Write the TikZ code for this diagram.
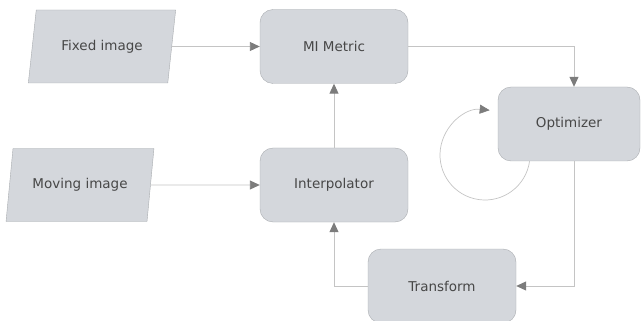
\documentclass[tikz,border=0pt]{standalone}
\usepackage{fontspec}
\setmainfont{DejaVu Sans}
\usetikzlibrary{shapes.geometric,arrows.meta}

\definecolor{cajagris}{HTML}{D4D7DC}
\definecolor{bordegris}{HTML}{A9ACB0}
\definecolor{lineagris}{HTML}{C4C4C4}
\definecolor{puntagris}{HTML}{7C7C7C}
\definecolor{textogris}{HTML}{474747}

\tikzset{
  caja/.style={draw=bordegris, fill=cajagris, rounded corners=13pt,
    minimum width=148pt, minimum height=74pt, text=textogris,
    font=\fontsize{13.5}{16}\selectfont},
  entrada/.style={trapezium, trapezium left angle=75, trapezium right angle=105,
    trapezium stretches=true, draw=bordegris, fill=cajagris,
    minimum width=148pt, minimum height=73pt, text=textogris,
    font=\fontsize{13.5}{16}\selectfont},
  flecha/.style={draw=lineagris, line width=0.9pt,
    -{Triangle[length=10pt,width=9pt,color=puntagris]}}
}

\begin{document}
\begin{tikzpicture}[x=1pt, y=-1pt]

 % --- MARCO ---
 \useasboundingbox (0,0) rectangle (641,321);

 % --- BUCLE DEL OPTIMIZADOR ---
 % se dibuja antes para que la caja lo tape (eje y hacia abajo)
 \draw[draw=lineagris, line width=0.7pt, -{Triangle[length=10pt,width=9pt,color=puntagris]}]
   (485,155) ++(8:45) arc[start angle=8, end angle=276, radius=45];

 % --- ENTRADAS ---
 \node[entrada] (fija) at (102,46.5) {Fixed image};
 \node[entrada] (movil) at (80,185) {Moving image};

 % --- BLOQUES ---
 \node[caja] (metrica) at (334,46.5) {MI Metric};
 \node[caja] (interp) at (334,185) {Interpolator};
 \node[caja, minimum width=142pt] (optim) at (569,124) {Optimizer};
 \node[caja] (transf) at (442,286) {Transform};

 % --- CONEXIONES ---
 \draw[flecha] (fija.east) -- (metrica.west);
 \draw[flecha] (movil.east) -- (interp.west);
 \draw[flecha] (interp.north) -- (metrica.south);
 \draw[flecha] (metrica.east) -| ([xshift=5pt]optim.north);
 \draw[flecha] ([xshift=5pt]optim.south) |- (transf.east);
 \draw[flecha] (transf.west) -| (interp.south);

\end{tikzpicture}
\end{document}
